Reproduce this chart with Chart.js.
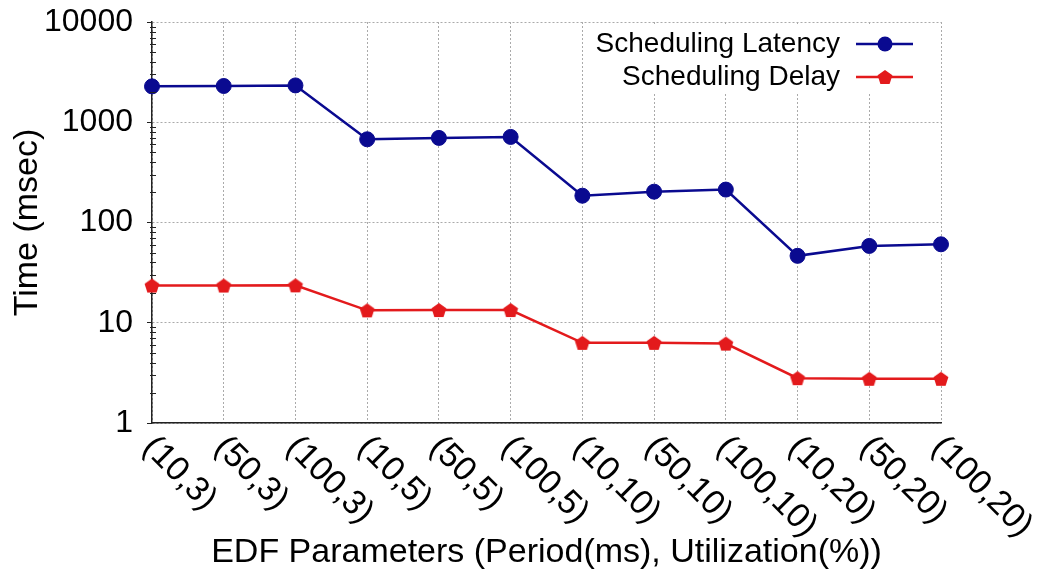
<!DOCTYPE html>
<html>
<head>
<meta charset="utf-8">
<script src="https://cdn.jsdelivr.net/npm/chart.js@4.4.1/dist/chart.umd.min.js"></script>
<style>
  html, body { margin:0; padding:0; background:#fff; }
  #wrap { width:1044px; height:579px; }
</style>
</head>
<body>
<div id="wrap"><canvas id="chart" width="1044" height="579"></canvas></div>
<script>
// ── DATOS ───────────────────────────────────────────────
const categories = ['(10,3)','(50,3)','(100,3)','(10,5)','(50,5)','(100,5)',
                    '(10,10)','(50,10)','(100,10)','(10,20)','(50,20)','(100,20)'];
const latency = [2280, 2300, 2330, 676, 698, 714, 185, 203, 213, 46.5, 58.4, 60.6];
const delay   = [23.5, 23.5, 23.6, 13.3, 13.4, 13.4, 6.3, 6.3, 6.2, 2.8, 2.76, 2.76];
const yTicks    = [1, 10, 100, 1000, 10000];
const minorMult = [2, 3, 4, 5, 6, 7, 8, 9];

const BLUE = '#0a0a90';
const RED  = '#e31a1c';
const FONT = '"Liberation Sans", Arial, sans-serif';

// pentágono relleno como pointStyle
function pentagon(color, r){
  const s = Math.ceil(r*2 + 2);
  const c = document.createElement('canvas');
  c.width = c.height = s;
  const g = c.getContext('2d');
  g.fillStyle = color;
  g.beginPath();
  for(let i=0;i<5;i++){
    const a = -Math.PI/2 + i*2*Math.PI/5;
    const px = s/2 + r*Math.cos(a), py = s/2 + r*Math.sin(a) + r*0.1;
    i ? g.lineTo(px,py) : g.moveTo(px,py);
  }
  g.closePath(); g.fill();
  return c;
}
const pentaRed = pentagon(RED, 7.8);

const series = [
  { label:'Scheduling Latency', data:latency, color:BLUE, style:'circle' },
  { label:'Scheduling Delay',   data:delay,   color:RED,  style:pentaRed },
];

// ── PLUGIN: etiquetas inclinadas, marcas menores, leyenda ──
const decor = {
  id:'decor',
  beforeDatasetsDraw(chart){
    const { ctx } = chart;
    ctx.save();
    ctx.fillStyle = '#fff';
    ctx.fillRect(586, 24, 352, 70);
    ctx.restore();
  },
  afterDraw(chart){
    const { ctx, chartArea:area, scales:{ x, y } } = chart;
    ctx.save();

    // marcas menores del eje log
    ctx.strokeStyle = '#222';
    ctx.lineWidth = 1;
    for(let k=0;k<4;k++){
      minorMult.forEach(m=>{
        const py = Math.round(y.getPixelForValue(m*Math.pow(10,k))) + 0.5;
        ctx.beginPath();
        ctx.moveTo(area.left-2, py);
        ctx.lineTo(area.left+4, py);
        ctx.stroke();
      });
    }

    // etiquetas de categoría a 45°
    ctx.fillStyle = '#000';
    ctx.font = '34px ' + FONT;
    ctx.textAlign = 'left';
    ctx.textBaseline = 'middle';
    categories.forEach((c,i)=>{
      const px = x.getPixelForTick(i);
      ctx.save();
      ctx.translate(px-4, area.bottom+19);
      ctx.rotate(Math.PI/4);
      ctx.fillText(c, 0, 0);
      ctx.restore();
    });

    // leyenda
    ctx.font = '28px ' + FONT;
    ctx.textAlign = 'right';
    series.forEach((s,i)=>{
      const ly = 44 + i*33;
      ctx.fillStyle = '#000';
      ctx.fillText(s.label, 840, ly);
      ctx.strokeStyle = s.color;
      ctx.lineWidth = 2.5;
      ctx.beginPath(); ctx.moveTo(856, ly); ctx.lineTo(913, ly); ctx.stroke();
      if(s.style==='circle'){
        ctx.fillStyle = s.color;
        ctx.beginPath(); ctx.arc(885, ly, 7.5, 0, Math.PI*2); ctx.fill();
      } else {
        ctx.drawImage(s.style, 885 - s.style.width/2, ly - s.style.height/2);
      }
    });
    ctx.restore();
  }
};

// ── GRÁFICO ─────────────────────────────────────────────
new Chart(document.getElementById('chart'), {
  type:'line',
  data:{
    labels: categories,
    datasets: series.map(s=>({
      label: s.label,
      data: s.data,
      borderColor: s.color,
      backgroundColor: s.color,
      borderWidth: 2.5,
      tension: 0,
      pointStyle: s.style,
      pointRadius: 7.5,
      pointBorderWidth: 1,
      pointBorderColor: s.color,
      pointBackgroundColor: s.color,
      clip: false,
    }))
  },
  options:{
    responsive:false,
    animation:false,
    events:[],
    layout:{ padding:{ top:22, right:103, bottom:0, left:0 } },
    plugins:{ legend:{ display:false }, tooltip:{ enabled:false } },
    scales:{
      x:{
        type:'category',
        offset:false,
        grid:{ color:'#aaa', lineWidth:1, drawTicks:false },
        border:{ color:'#222', width:1.5, dash:[2,2] },
        ticks:{ display:false },
        title:{ display:true, text:'EDF Parameters (Period(ms), Utilization(%))',
                color:'#000', font:{ family:FONT, size:34, lineHeight:1 },
                padding:{ top:0, bottom:9 } },
        afterFit(scale){ scale.height = 156; }
      },
      y:{
        type:'logarithmic',
        min:1, max:10000,
        afterBuildTicks(scale){ scale.ticks = yTicks.map(v=>({ value:v })); },
        grid:{ color:'#aaa', lineWidth:1, drawTicks:true, tickLength:5,
               tickColor:'#222', tickBorderDash:[] },
        border:{ color:'#222', width:1.5, dash:[2,2] },
        ticks:{ color:'#000', padding:14, font:{ family:FONT, size:32 },
                callback:v=>String(v) },
        title:{ display:true, text:'Time (msec)', color:'#000',
                font:{ family:FONT, size:34, lineHeight:1 },
                padding:{ top:11, bottom:0 } },
        afterFit(scale){
          scale.width = 152;
          scale.paddingTop = 0;
          scale.paddingBottom = 0;
        }
      }
    }
  },
  plugins:[decor]
});
</script>
</body>
</html>
